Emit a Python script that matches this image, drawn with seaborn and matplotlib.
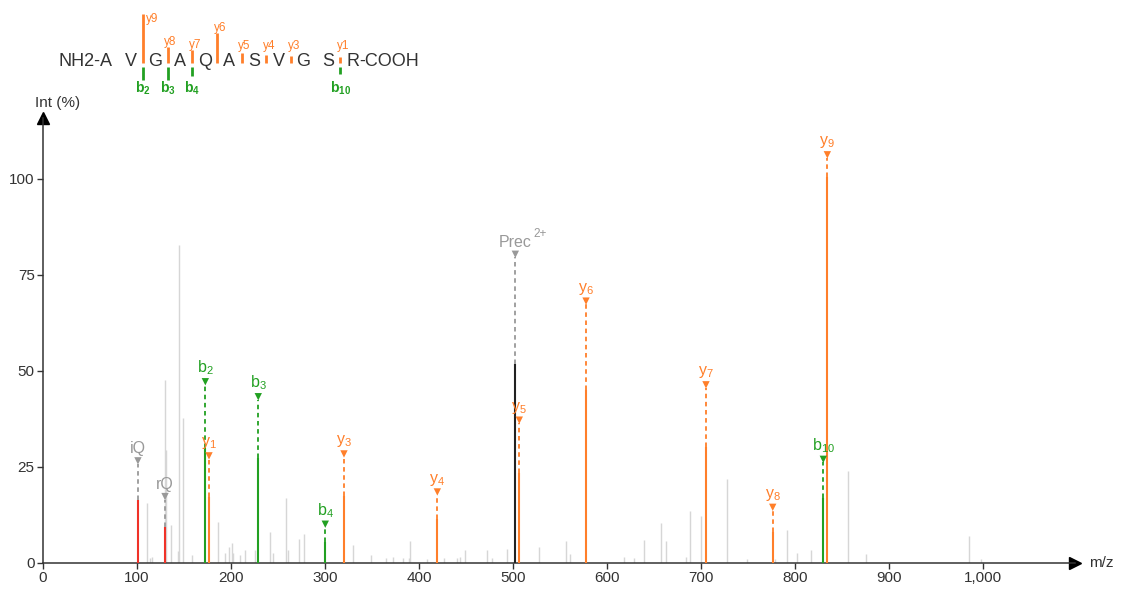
import numpy as np
import pandas as pd
import seaborn as sns
import matplotlib.pyplot as plt

# unannotated peaks (m/z, relative intensity %)
bg_mz = [111.0, 113.8, 115.6, 129.8, 131.2, 136.2, 143.5, 144.7, 148.6, 158.2,
         185.8, 193.6, 198.2, 200.7, 202.5, 210.0, 214.9, 225.5, 241.5, 244.3,
         258.5, 261.0, 272.3, 277.7, 329.7, 348.6, 364.6, 372.7, 383.3, 389.0,
         390.4, 408.9, 426.6, 440.0, 443.6, 448.9, 472.0, 477.7, 493.3, 528.0,
         556.0, 560.6, 618.0, 628.7, 639.4, 657.1, 662.4, 684.0, 688.8, 700.0,
         728.0, 748.6, 779.0, 791.0, 801.8, 816.7, 856.7, 875.5, 985.4, 997.5]
bg_int = [15.5, 1.3, 1.5, 47.7, 29.4, 9.9, 3.0, 82.8, 37.7, 2.1,
          10.7, 2.5, 4.2, 5.3, 2.6, 2.0, 3.4, 3.4, 8.0, 2.7,
          16.8, 3.4, 6.3, 7.6, 4.7, 2.1, 1.4, 1.6, 1.2, 1.2,
          5.7, 1.0, 1.4, 1.3, 1.6, 3.4, 3.4, 1.3, 3.6, 4.1,
          5.7, 2.3, 1.5, 1.2, 6.0, 10.3, 5.7, 1.6, 13.5, 12.2,
          21.8, 1.0, 1.0, 8.6, 2.7, 3.4, 24.0, 2.3, 7.0, 1.0]

# annotated peaks
ion_name = ['iQ', 'rQ', 'b2', 'y1', 'b3', 'b4', 'y3', 'y4', 'Prec', 'y5',
            'y6', 'y7', 'y8', 'b10', 'y9']
ion_type = ['imm', 'imm', 'b', 'y', 'b', 'b', 'y', 'y', 'prec', 'y',
            'y', 'y', 'y', 'b', 'y']
ion_mz = [101.0, 129.8, 172.7, 176.6, 229.0, 300.3, 320.2, 419.5, 502.5, 506.7,
          577.7, 705.3, 776.3, 830.1, 834.4]
ion_int = [16.4, 9.5, 30.0, 17.3, 27.3, 5.4, 17.4, 11.5, 51.7, 23.4,
           45.0, 30.3, 8.2, 16.8, 100.6]
ion_mark = [26.6, 17.3, 47.2, 27.9, 43.3, 10.1, 28.4, 18.5, 80.4, 37.2,
            68.2, 46.4, 14.5, 27.0, 106.3]

# sequence header
residues = list('AVGAQASVGSR')
y_frag = [9, 8, 7, 6, 5, 4, 3, 1]
y_frag_len = [49, 16, 13, 30, 10, 8, 7, 6]
b_frag = [2, 3, 4, 10]
b_frag_len = [13, 13, 9.5, 7.5]

x_ticks = [0, 100, 200, 300, 400, 500, 600, 700, 800, 900, 1000]
y_ticks = [0, 25, 50, 75, 100]

ORANGE = '#ff7f2a'
GREEN = '#22a022'
RED = '#f03228'
GREY_TXT = '#999999'
DARK = '#333333'
line_col = {'imm': RED, 'b': GREEN, 'y': ORANGE, 'prec': '#222222'}
lab_col = {'imm': GREY_TXT, 'b': GREEN, 'y': ORANGE, 'prec': GREY_TXT}

sns.set_theme(style='white')
plt.rcParams['font.family'] = ['Liberation Sans', 'DejaVu Sans']
plt.rcParams['mathtext.fontset'] = 'custom'
plt.rcParams['mathtext.rm'] = 'Liberation Sans'
plt.rcParams['mathtext.bf'] = 'Liberation Sans:bold'
plt.rcParams['mathtext.default'] = 'regular'

W, H = 1124, 590
fig = plt.figure(figsize=(W / 100, H / 100), dpi=100)
ax = fig.add_axes([43 / W, 27 / H, (1075 - 43) / W, (563 - 118) / H])
ax.set_xlim(0, (1075 - 43) / 0.94)
ax.set_ylim(0, (563 - 118) / 3.84)

ions = pd.DataFrame({'name': ion_name, 'type': ion_type, 'mz': ion_mz,
                     'int': ion_int, 'mark': ion_mark})

# background peaks
ax.vlines(bg_mz, 0, bg_int, color='#d6d6d6', lw=1.0, zorder=1)

# annotated peaks + dashed leaders
for _, r in ions.iterrows():
    ax.vlines(r['mz'], 0, r['int'], color=line_col[r['type']], lw=1.5, zorder=3)
    ax.vlines(r['mz'], r['int'], r['mark'] - 0.8, color=lab_col[r['type']],
              lw=1.3, linestyles=(0, (2.5, 2.0)), zorder=3)

sns.scatterplot(data=ions, x='mz', y='mark', hue='type', palette=lab_col,
                marker='v', s=28, linewidth=0, legend=False, ax=ax, zorder=4,
                clip_on=False)

for _, r in ions.iterrows():
    n = r['name']
    if r['type'] in ('b', 'y'):
        txt = n[0] + '$_{' + n[1:] + '}$'
    else:
        txt = n
    ax.annotate(txt, (r['mz'], r['mark']), xytext=(0, 3.2), textcoords='offset points',
                ha='center', va='bottom', fontsize=11.5, color=lab_col[r['type']],
                annotation_clip=False)
    if r['type'] == 'prec':
        ax.annotate('2+', (r['mz'], r['mark']), xytext=(13, 10.5), textcoords='offset points',
                    ha='left', va='bottom', fontsize=8.5, color=GREY_TXT,
                    annotation_clip=False)

ax.set_xlabel('')
ax.set_ylabel('')
ax.set_xticks(x_ticks)
ax.set_xticklabels(['{:,}'.format(t) for t in x_ticks])
ax.set_yticks(y_ticks)
for s in ['top', 'right']:
    ax.spines[s].set_visible(False)
for s in ['left', 'bottom']:
    ax.spines[s].set_color(DARK)
    ax.spines[s].set_linewidth(1.1)
ax.tick_params(direction='out', length=4, width=1, colors=DARK, labelsize=11,
               pad=2, bottom=True, left=True)
ax.plot(1, 0, '>', color='black', ms=8, transform=ax.get_yaxis_transform(), clip_on=False)
ax.plot(0, 1, '^', color='black', ms=8, transform=ax.get_xaxis_transform(), clip_on=False)

# overlay in pixel coordinates for header and axis titles
ov = fig.add_axes([0, 0, 1, 1], facecolor='none')
ov.set_xlim(0, W)
ov.set_ylim(H, 0)
ov.axis('off')

ov.text(35, 103, 'Int (%)', ha='left', va='center', fontsize=11, color=DARK)
ov.text(1089, 563, 'm/z', ha='left', va='center', fontsize=11, color=DARK)

x0, step, base = 106.2, 24.65, 65.5
res_x = [x0 + step * i for i in range(len(residues))]
for x, aa in zip(res_x, residues):
    ov.text(x, base, aa, ha='center', va='baseline', fontsize=13, color=DARK)
ov.text(res_x[0] - 6, base, 'NH2-', ha='right', va='baseline', fontsize=13, color=DARK)
ov.text(res_x[-1] + 6.5, base, '-COOH', ha='left', va='baseline', fontsize=13, color=DARK)


def cut_x(k):
    return res_x[k - 1] + step / 2


for n, ln in zip(y_frag, y_frag_len):
    x = cut_x(len(residues) - n)
    top = 63 - ln
    ov.plot([x, x], [63, top], color=ORANGE, lw=2, solid_capstyle='butt')
    if top < 25:
        ov.text(x + 2.5, top - 1, 'y%d' % n, ha='left', va='top', fontsize=8.5, color=ORANGE)
    else:
        ov.text(x - 3.5, min(top + 1, 52), 'y%d' % n, ha='left', va='bottom',
                fontsize=8.5, color=ORANGE)

for n, ln in zip(b_frag, b_frag_len):
    x = cut_x(n)
    ov.plot([x, x], [66.5, 66.5 + ln], color=GREEN, lw=2, solid_capstyle='butt')
    ov.text(x, 79.5, r'b$_{\mathbf{%d}}$' % n, ha='center', va='top', fontsize=10,
            color=GREEN, fontweight='bold')

fig.savefig('out.png', dpi=100)
